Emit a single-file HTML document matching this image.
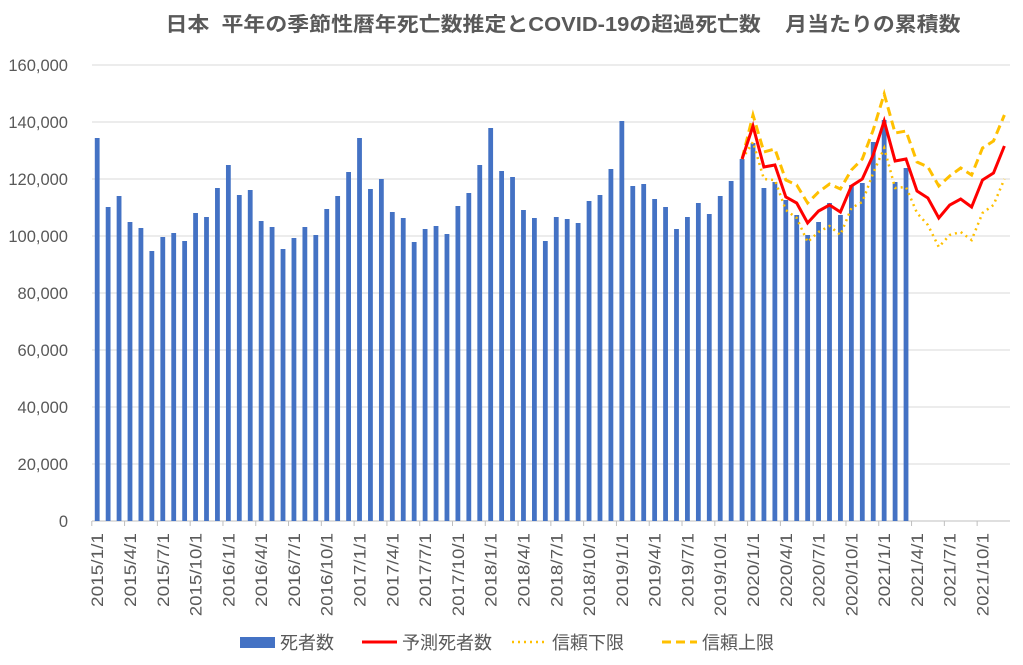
<!DOCTYPE html>
<html><head><meta charset="utf-8"><style>body{margin:0;background:#fff}svg{display:block}text{font-family:"Liberation Sans","Noto Sans CJK JP",sans-serif}</style></head>
<body>
<svg id="s" width="1023" height="665" viewBox="0 0 1023 665" xmlns="http://www.w3.org/2000/svg">
<text x="563" y="31" text-anchor="middle" font-size="20" font-weight="bold" fill="#595959" textLength="795" lengthAdjust="spacingAndGlyphs" xml:space="preserve">日本  平年の季節性暦年死亡数推定とCOVID-19の超過死亡数    月当たりの累積数</text>
<g id="grid" stroke="#d9d9d9" stroke-width="1"></g>
<g id="yl" font-size="16.5" fill="#595959" text-anchor="end"></g>
<g id="bars" fill="#4472c4"></g>
<g id="xl" font-size="16.5" fill="#595959"></g>
<polyline id="lo" fill="none" stroke="#ffc000" stroke-width="2.5" stroke-dasharray="2 4"/>
<polyline id="hi" fill="none" stroke="#ffc000" stroke-width="3" stroke-dasharray="9 5"/>
<polyline id="red" fill="none" stroke="#ff0000" stroke-width="3"/>
<rect x="240" y="637" width="35" height="11" fill="#4472c4"/>
<text x="280" y="649" font-size="18" fill="#595959">死者数</text>
<line x1="362" y1="642" x2="397" y2="642" stroke="#f00" stroke-width="3"/>
<text x="402" y="649" font-size="18" fill="#595959">予測死者数</text>
<line x1="512" y1="642" x2="547" y2="642" stroke="#ffc000" stroke-width="2.5" stroke-dasharray="2 4"/>
<text x="552" y="649" font-size="18" fill="#595959">信頼下限</text>
<line x1="662" y1="642" x2="697" y2="642" stroke="#ffc000" stroke-width="3" stroke-dasharray="9 5"/>
<text x="702" y="649" font-size="18" fill="#595959">信頼上限</text>
</svg>
<script>
var NS="http://www.w3.org/2000/svg";function el(p,t,a,txt){var e=document.createElementNS(NS,t);for(var k in a)e.setAttribute(k,a[k]);if(txt)e.textContent=txt;document.getElementById(p).appendChild(e);return e;}
for(var i=0;i<=8;i++){var y=521-i*57;el("grid","line",{x1:92,x2:1010,y1:y,y2:y,stroke:i?"#d9d9d9":"#bfbfbf"});el("yl","text",{x:68,y:y+6},(i*20000).toLocaleString("en-US"));}
var B=[138,207,196,222,228,251,237,233,241,213,217,188,165,195,190,221,227,249,238,227,235,209,196,172,138,189,179,212,218,242,229,226,234,206,193,165,128,171,177,210,218,241,217,219,223,201,195,169,121,186,184,199,207,229,217,203,214,196,181,159,143,188,182,200,215,235,222,203,215,185,183,142,120,182,168];
function X(i){return 97.2+10.93*i;}
B.forEach(function(t,i){el("bars","rect",{x:X(i)-2.4,y:t,width:4.8,height:521-t});});
for(var i=0;i<84;i+=3){var y=2015+Math.floor(i/12),m=i%12+1;var x=X(i)+6;var s=y+"/"+m+"/1";el("xl","text",{transform:"translate("+x+",533) rotate(-90)","text-anchor":"end",textLength:(s.length*9.25).toFixed(1),lengthAdjust:"spacingAndGlyphs"},s);el("grid","line",{x1:X(i)-5.4,x2:X(i)-5.4,y1:521,y2:526,stroke:"#bfbfbf"});}
function P(id,a){document.getElementById(id).setAttribute("points",a.map(function(v,j){return X(59+j).toFixed(1)+","+v}).join(" "));}
P("red",[159,126,167,165,197,203,223,211,205,212,186,179,155,121,161,159,191,198,218,205,199,207,180,173,146]);
P("hi",[159,115,152,149,180,185,203,192,184,189,170,159,130,94,133,131,162,167,186,176,168,175,148,141,115]);
P("lo",[159,142,179,180,210,218,242,232,226,235,208,202,173,148,188,187,213,225,247,235,232,240,213,205,179]);
</script>
</body></html>
